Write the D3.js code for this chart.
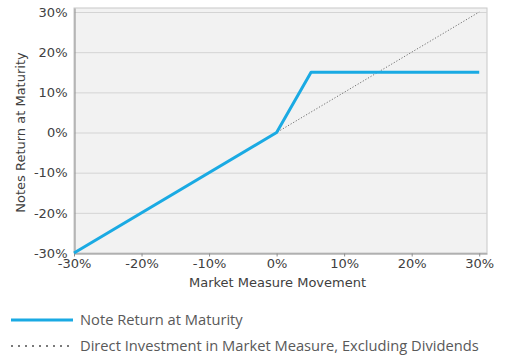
<!DOCTYPE html>
<html><head><meta charset="utf-8">
<script src="https://cdn.jsdelivr.net/npm/d3@7"></script>
<style>body{margin:0;background:#fff}svg{display:block}</style>
</head><body>
<svg id="c" width="515" height="361"></svg>
<script>
const noteX = [-30, 0, 5.1, 30];
const noteY = [-30, 0, 15, 15];
const directX = [-30, 30];
const directY = [-30, 30];
const xTicks = [-30, -20, -10, 0, 10, 20, 30];
const yTicks = [-30, -20, -10, 0, 10, 20, 30];
const legendLabels = ["Note Return at Maturity", "Direct Investment in Market Measure, Excluding Dividends"];

const svg = d3.select("#c");
const L = 74, R = 487, T = 8, B = 253;
const x = d3.scaleLinear().domain([-30, 31.15]).range([L, R]);
const y = d3.scaleLinear().domain([-30, 31]).range([B, T]);
const axisFont = "DejaVu Sans, sans-serif";

svg.append("rect").attr("x", L).attr("y", T).attr("width", R - L).attr("height", B - T)
  .attr("fill", "#f2f2f2").attr("stroke", "#c8c8c8").attr("stroke-width", 1);

// gridlines
svg.append("g").selectAll("line").data(yTicks).join("line")
  .attr("x1", L).attr("x2", R).attr("y1", d => y(d) + 0.5).attr("y2", d => y(d) + 0.5)
  .attr("stroke", "#d4d4d4").attr("stroke-width", 1);

// x axis
const xa = svg.append("g").attr("transform", `translate(0,${B + 0.5})`)
  .call(d3.axisBottom(x).tickValues(xTicks).tickFormat(d => d + "%").tickSize(3).tickSizeOuter(0));
xa.select(".domain").attr("stroke", "#8c8c8c");
xa.selectAll(".tick line").attr("stroke", "#8c8c8c");
xa.selectAll("text").attr("font-family", axisFont).attr("font-size", 13).attr("fill", "#404040").attr("dy", "0.65em");

// y axis
const ya = svg.append("g").attr("transform", `translate(${L + 0.5},0)`)
  .call(d3.axisLeft(y).tickValues(yTicks).tickFormat(d => d + "%").tickSize(0).tickSizeOuter(0));
ya.select(".domain").attr("stroke", "#8c8c8c");
ya.selectAll("text").attr("font-family", axisFont).attr("font-size", 13).attr("fill", "#404040").attr("x", -7);

// series
const line = d3.line().x(d => x(d[0])).y(d => y(d[1]));
svg.append("path").datum(d3.zip(directX, directY)).attr("d", line)
  .attr("fill", "none").attr("stroke", "#6f6f6f").attr("stroke-width", 1).attr("stroke-dasharray", "1.2,1.8");
svg.append("path").datum(d3.zip(noteX, noteY)).attr("d", line)
  .attr("fill", "none").attr("stroke", "#1aaae3").attr("stroke-width", 3).attr("stroke-linejoin", "round");

// axis titles
svg.append("text").attr("x", (L + R) / 2 - 3).attr("y", 287).attr("text-anchor", "middle")
  .attr("font-family", axisFont).attr("font-size", 13).attr("fill", "#404040").text("Market Measure Movement");
svg.append("text").attr("transform", `translate(25,${(T + B) / 2 + 2}) rotate(-90)`).attr("text-anchor", "middle")
  .attr("font-family", axisFont).attr("font-size", 13).attr("fill", "#404040").text("Notes Return at Maturity");

// legend
const lg = svg.append("g");
lg.append("line").attr("x1", 11).attr("x2", 73).attr("y1", 320).attr("y2", 320)
  .attr("stroke", "#1aaae3").attr("stroke-width", 3);
lg.append("line").attr("x1", 11).attr("x2", 73).attr("y1", 346).attr("y2", 346)
  .attr("stroke", "#7a7a7a").attr("stroke-width", 2).attr("stroke-dasharray", "2,5");
lg.selectAll("text").data(legendLabels).join("text")
  .attr("x", 80).attr("y", (d, i) => 325 + i * 26)
  .attr("font-family", "Open Sans, sans-serif").attr("font-size", 14.7).attr("fill", "#595959").text(d => d);
</script>
</body></html>
